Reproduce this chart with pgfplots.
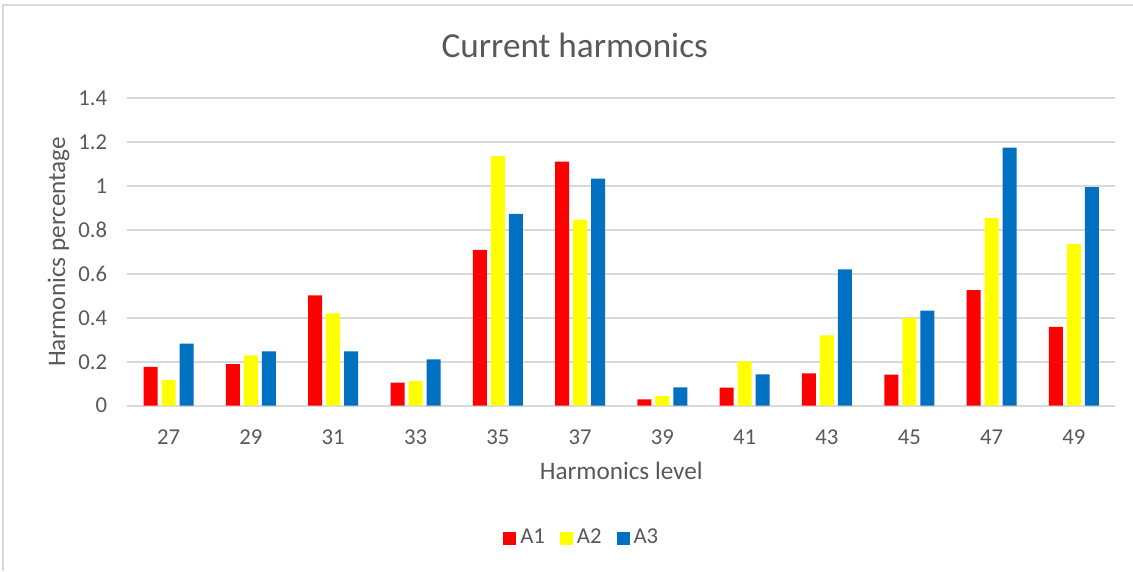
\documentclass[border=0pt]{standalone}
\usepackage{fontspec}
\setmainfont{Carlito}
\usepackage{pgfplots}
\pgfplotsset{compat=1.18}
\definecolor{cA}{HTML}{FF0000}
\definecolor{cB}{HTML}{FFFF00}
\definecolor{cC}{HTML}{0070C0}
\definecolor{gridc}{HTML}{D9D9D9}
\definecolor{txt}{HTML}{595959}
\begin{document}
\begin{tikzpicture}
\begin{axis}[
  scale only axis, width=493.75pt, height=153.85pt,
  ybar=2pt, bar width=7pt,
  xmin=-0.5, xmax=11.5, ymin=0, ymax=1.4,
  xtick={0,1,2,3,4,5,6,7,8,9,10,11},
  xticklabels={27,29,31,33,35,37,39,41,43,45,47,49},
  ytick={0,0.2,0.4,0.6,0.8,1,1.2,1.4},
  ymajorgrids, grid style={color=gridc, line width=1pt},
  axis line style={draw=none},
  major tick length=0pt,
  tick label style={font=\fontsize{11.35}{13}\selectfont, text=txt},
  /pgf/number format/assume math mode=true,
  yticklabel style={xshift=-6.6pt},
  xticklabel style={yshift=-8.4pt},
  xlabel={Harmonics level}, ylabel={Harmonics percentage},
  label style={font=\fontsize{12.6}{15}\selectfont, text=txt},
  xlabel style={at={(axis description cs:0.5,-0.212)}, anchor=center},
  ylabel style={at={(axis description cs:-0.0698,0.5)}, anchor=center},
  clip=false,
  legend columns=-1,
  legend style={at={(axis description cs:0.461,-0.43)}, anchor=center, draw=none,
    font=\fontsize{11.35}{13}\selectfont, text=txt,
    /tikz/every even column/.append style={column sep=5.5pt},
    /tikz/every odd column/.append style={column sep=0pt}},
  every axis plot post/.append style={
    legend image code/.code={\fill[##1] (0pt,-3.25pt) rectangle (6.5pt,3.25pt);}},
]
\addplot[fill=cA, draw=none] coordinates {(0,0.177) (1,0.189) (2,0.502) (3,0.105) (4,0.709) (5,1.111) (6,0.029) (7,0.082) (8,0.147) (9,0.141) (10,0.526) (11,0.359)};
\addplot[fill=cB, draw=none] coordinates {(0,0.118) (1,0.229) (2,0.420) (3,0.112) (4,1.136) (5,0.847) (6,0.044) (7,0.202) (8,0.320) (9,0.400) (10,0.853) (11,0.735)};
\addplot[fill=cC, draw=none] coordinates {(0,0.282) (1,0.247) (2,0.247) (3,0.211) (4,0.873) (5,1.033) (6,0.083) (7,0.142) (8,0.620) (9,0.433) (10,1.174) (11,0.995)};
\legend{A1,A2,A3}
\node[font=\fontsize{17.6}{21}\selectfont, text=txt] at (rel axis cs:0.453,1.172) {Current harmonics};
\draw[gridc, line width=0.75pt] (rel axis cs:-0.1261,-0.5373) -- (rel axis cs:-0.1261,1.3022) -- (rel axis cs:1.0182,1.3022);
\coordinate (bl) at (rel axis cs:-0.1291,-0.5373);
\coordinate (tr) at (rel axis cs:1.0182,1.3185);
\end{axis}
\pgfresetboundingbox
\useasboundingbox (bl) rectangle (tr);
\end{tikzpicture}
\end{document}
